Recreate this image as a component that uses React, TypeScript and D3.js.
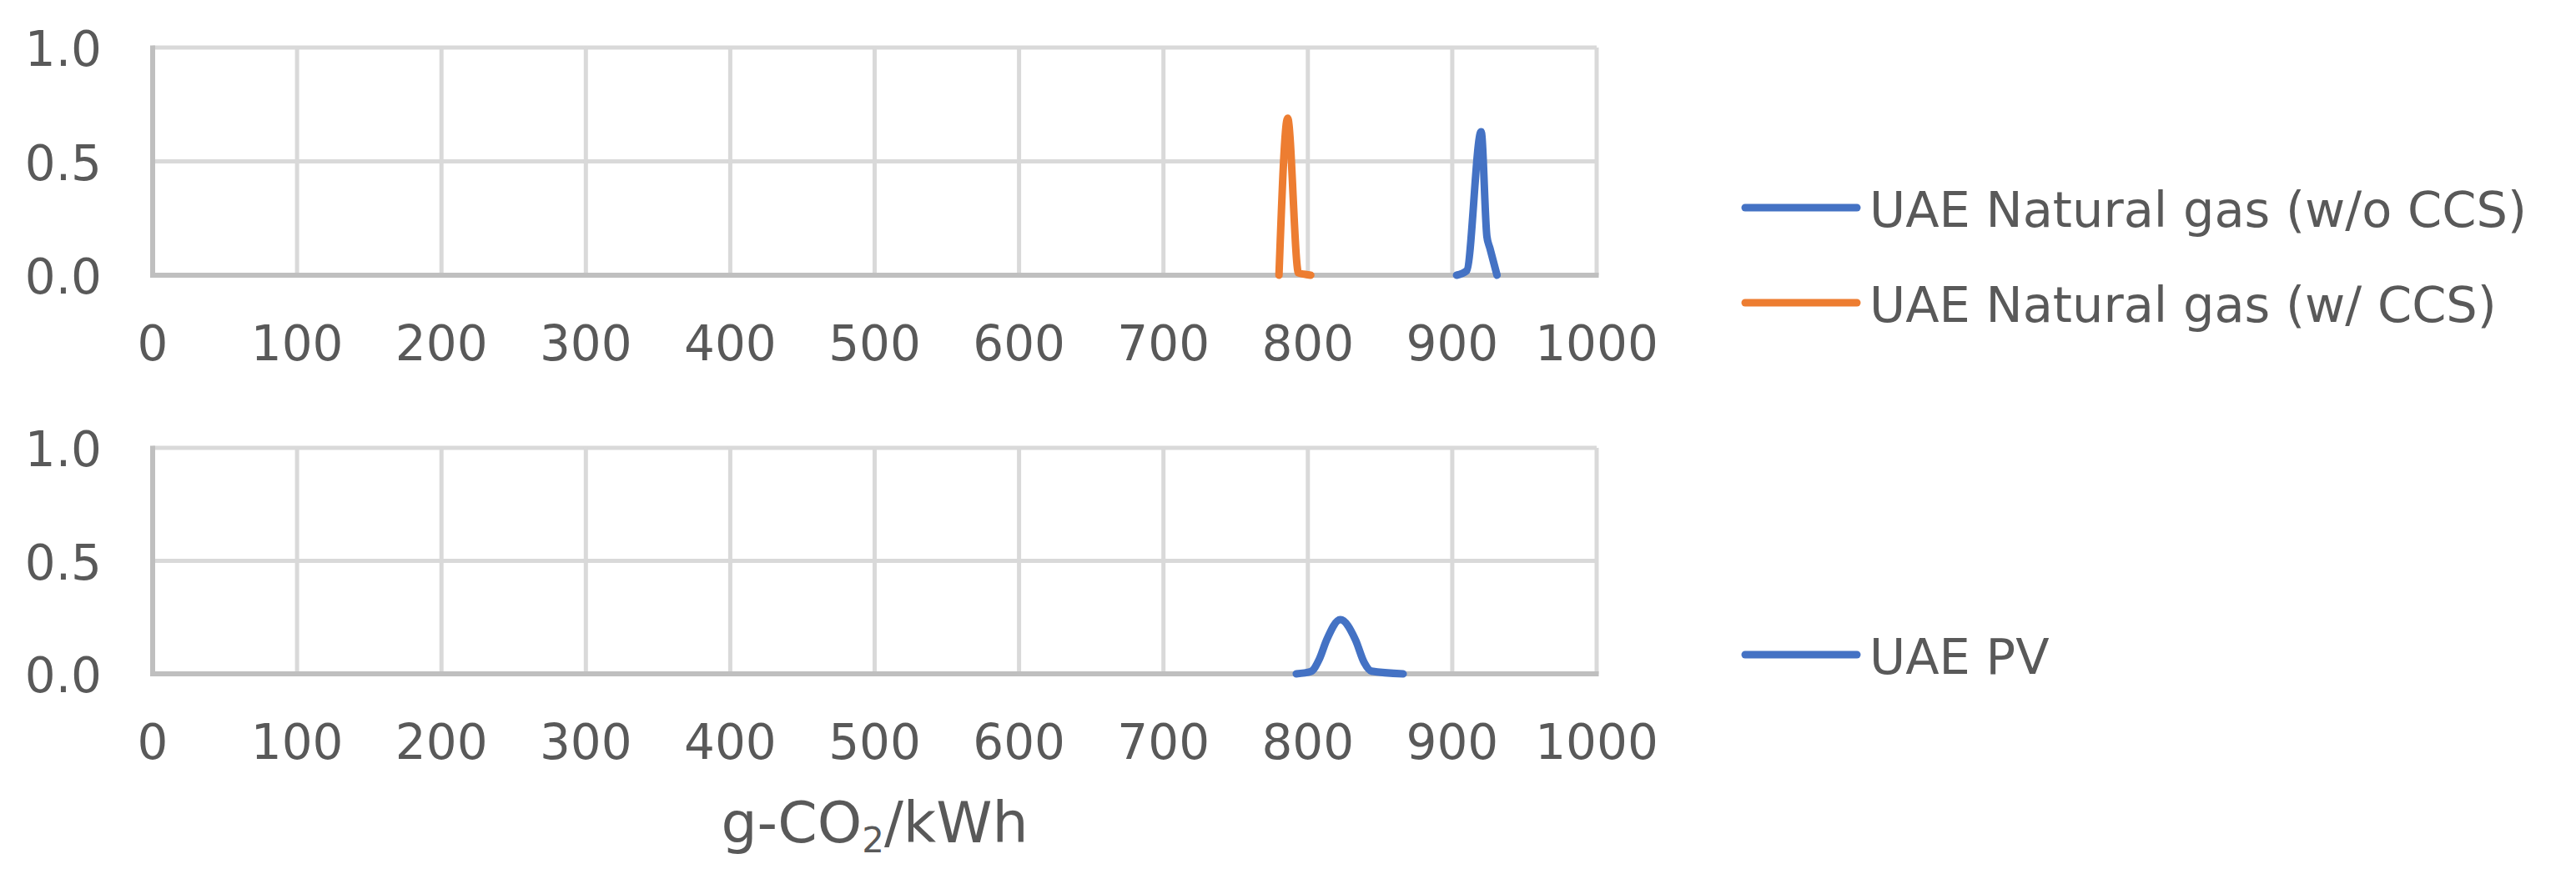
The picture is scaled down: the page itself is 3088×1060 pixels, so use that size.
import React, { useEffect, useRef } from 'react';
import * as d3 from 'd3';

// x ticks / y ticks shared by both panels
const xTicks = [0, 100, 200, 300, 400, 500, 600, 700, 800, 900, 1000];
const yTicks = [0, 0.5, 1.0];

// top panel: natural gas without CCS
const gasNoCcsX = [903, 910, 920, 924, 926, 931];
const gasNoCcsY = [0, 0.02, 0.63, 0.17, 0.12, 0];

// top panel: natural gas with CCS
const gasCcsX = [780, 786, 793.5, 797, 802];
const gasCcsY = [0, 0.69, 0.01, 0.005, 0];

// bottom panel: PV
const pvX = [792, 802, 808, 813, 822.5, 833, 839, 844, 866];
const pvY = [0, 0.01, 0.066, 0.15, 0.24, 0.15, 0.05, 0.012, 0];

const legendTop = ['UAE Natural gas (w/o CCS)', 'UAE Natural gas (w/ CCS)'];
const legendBottom = ['UAE PV'];

const BLUE = '#4472C4';
const ORANGE = '#ED7D31';
const TEXT = '#595959';
const GRID = '#D9D9D9';
const AXIS = '#BFBFBF';
const FONT = '"DejaVu Sans", Verdana, sans-serif';

type Pt = { x: number; y: number };
const zip = (xs: number[], ys: number[]): Pt[] => xs.map((x, i) => ({ x, y: ys[i] }));

const App: React.FC = () => {
  const svgRef = useRef<SVGSVGElement>(null);

  useEffect(() => {
    if (!svgRef.current) return;
    const svg = d3.select(svgRef.current);
    svg.selectAll('*').remove();

    const x = d3.scaleLinear().domain([0, 1000]).range([183, 1914]);

    const panels = [
      {
        y: d3.scaleLinear().domain([0, 1]).range([330, 57]),
        series: [
          { data: zip(gasNoCcsX, gasNoCcsY), color: BLUE },
          { data: zip(gasCcsX, gasCcsY), color: ORANGE },
        ],
        legend: [
          { label: legendTop[0], color: BLUE, y: 249 },
          { label: legendTop[1], color: ORANGE, y: 363 },
        ],
      },
      {
        y: d3.scaleLinear().domain([0, 1]).range([808, 537]),
        series: [{ data: zip(pvX, pvY), color: BLUE }],
        legend: [{ label: legendBottom[0], color: BLUE, y: 785 }],
      },
    ];

    panels.forEach(p => {
      const g = svg.append('g');
      const y = p.y;

      // horizontal gridlines
      g.selectAll('.hgrid')
        .data(yTicks.filter(t => t > 0))
        .enter()
        .append('line')
        .attr('x1', x(0))
        .attr('x2', x(1000))
        .attr('y1', d => y(d))
        .attr('y2', d => y(d))
        .attr('stroke', GRID)
        .attr('stroke-width', 5);

      // vertical gridlines
      g.selectAll('.vgrid')
        .data(xTicks.filter(t => t > 0))
        .enter()
        .append('line')
        .attr('x1', d => x(d))
        .attr('x2', d => x(d))
        .attr('y1', y(1))
        .attr('y2', y(0))
        .attr('stroke', GRID)
        .attr('stroke-width', 5);

      // axis lines
      g.append('line')
        .attr('x1', x(0)).attr('x2', x(0))
        .attr('y1', y(1) - 2.5).attr('y2', y(0) + 3)
        .attr('stroke', AXIS).attr('stroke-width', 6);
      g.append('line')
        .attr('x1', x(0) - 3).attr('x2', x(1000) + 2.5)
        .attr('y1', y(0)).attr('y2', y(0))
        .attr('stroke', AXIS).attr('stroke-width', 6);

      // y tick labels
      g.selectAll('.ylab')
        .data(yTicks)
        .enter()
        .append('text')
        .attr('x', 122)
        .attr('y', d => y(d) + 22)
        .attr('text-anchor', 'end')
        .attr('font-family', FONT)
        .attr('font-size', 58)
        .attr('fill', TEXT)
        .text(d => d3.format('.1f')(d));

      // x tick labels
      g.selectAll('.xlab')
        .data(xTicks)
        .enter()
        .append('text')
        .attr('x', d => x(d))
        .attr('y', y(0) + 102)
        .attr('text-anchor', 'middle')
        .attr('font-family', FONT)
        .attr('font-size', 58)
        .attr('fill', TEXT)
        .text(d => String(d));

      const line = d3.line<Pt>()
        .x(d => x(d.x))
        .y(d => y(d.y))
        .curve(d3.curveMonotoneX);

      p.series.forEach(s => {
        g.append('path')
          .datum(s.data)
          .attr('fill', 'none')
          .attr('stroke', s.color)
          .attr('stroke-width', 9)
          .attr('stroke-linejoin', 'round')
          .attr('stroke-linecap', 'round')
          .attr('d', line);
      });

      // legend
      p.legend.forEach(l => {
        g.append('line')
          .attr('x1', 2092).attr('x2', 2226)
          .attr('y1', l.y).attr('y2', l.y)
          .attr('stroke', l.color)
          .attr('stroke-width', 9)
          .attr('stroke-linecap', 'round');
        g.append('text')
          .attr('x', 2241)
          .attr('y', l.y + 23)
          .attr('font-family', FONT)
          .attr('font-size', 59)
          .attr('fill', TEXT)
          .text(l.label);
      });
    });

    // x axis title with subscript
    const title = svg.append('text')
      .attr('x', (x(0) + x(1000)) / 2)
      .attr('y', 1010)
      .attr('text-anchor', 'middle')
      .attr('font-family', FONT)
      .attr('font-size', 68)
      .attr('fill', TEXT);
    title.append('tspan').text('g-CO');
    title.append('tspan').attr('font-size', 42).attr('dy', 12).text('2');
    title.append('tspan').attr('dy', -12).text('/kWh');
  }, []);

  return (
    <div style={{ position: 'absolute', left: 0, top: 0, background: '#fff' }}>
      <svg ref={svgRef} width={3088} height={1060} style={{ display: 'block' }} />
    </div>
  );
};

export default App;
